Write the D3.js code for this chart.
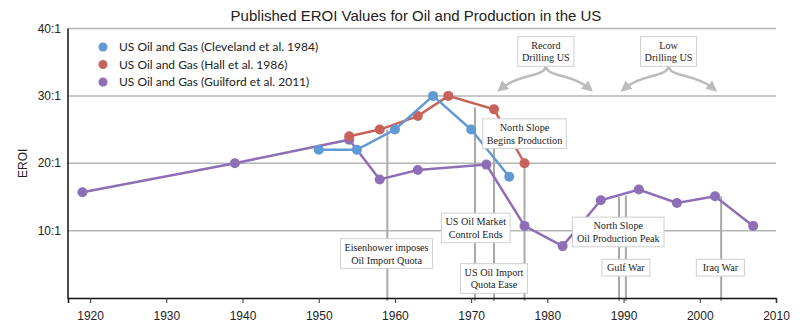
<!DOCTYPE html>
<html lang="en">
<head>
<meta charset="UTF-8">
<title>Published EROI Values for Oil and Production in the US</title>
<script src="https://cdn.jsdelivr.net/npm/d3@7"></script>
<style>
  body { margin: 0; background: #fff; }
</style>
</head>
<body>
<div id="chart"></div>
<script>
// series (year, EROI)
const cleveYears = [1950, 1955, 1960, 1965, 1970, 1975];
const cleveVals  = [22, 22, 25, 30, 25, 18];
const hallYears  = [1954, 1958, 1963, 1967, 1973, 1977];
const hallVals   = [24, 25, 27, 30, 28, 20];
const guilYears  = [1919, 1939, 1954, 1958, 1963, 1972, 1977, 1982, 1987, 1992, 1997, 2002, 2007];
const guilVals   = [15.7, 20, 23.5, 17.6, 19, 19.8, 10.7, 7.7, 14.5, 16.1, 14.1, 15.1, 10.7];

const seriesNames  = ["US Oil and Gas (Cleveland et al. 1984)", "US Oil and Gas (Hall et al. 1986)", "US Oil and Gas (Guilford et al. 2011)"];
const seriesColors = ["#6199d4", "#c9625a", "#8e6eb6"];

const xTicks = [1920, 1930, 1940, 1950, 1960, 1970, 1980, 1990, 2000, 2010];
const yTicks = [10, 20, 30, 40];
const yTickLabels = ["10:1", "20:1", "30:1", "40:1"];

// vertical event lines: year and the EROI where the line stops at the top
const eventYears = [1959, 1970.5, 1973, 1977, 1989.4, 1990.3, 2002.8];
const eventTops  = [25, 28.3, 22.2, 20, 15, 15.2, 15.1];

// annotation boxes, centred on (year, EROI)
const noteLabels = [["Record", "Drilling US"], ["Low", "Drilling US"], ["North Slope", "Begins Production"],
  ["US Oil Market", "Control Ends"], ["Eisenhower imposes", "Oil Import Quota"], ["US Oil Import", "Quota Ease"],
  ["North Slope", "Oil Production Peak"], ["Gulf War"], ["Iraq War"]];
const noteYears = [1979.8, 1995.9, 1977, 1970.6, 1958.9, 1973, 1989.3, 1990.3, 2002.7];
const noteVals  = [36.6, 36.6, 24.4, 10.4, 6.6, 2.9, 9.8, 4.5, 4.5];

// curly arrows below the drilling boxes
const arrowFrom  = [1979.8, 1995.9];
const arrowLeft  = [1973.6, 1989.8];
const arrowRight = [1985.8, 2002.1];
const arrowTop = 34.6, arrowEnd = 30.7;

const width = 800, height = 325;

const svg = d3.select("#chart")
  .append("svg")
  .attr("width", width)
  .attr("height", height)
  .style("font-family", "'Liberation Sans', Arial, sans-serif");

const x = d3.scaleLinear().domain([1917.1, 2010]).range([68, 776]);
const y = d3.scaleLinear().domain([0, 40]).range([298, 28.5]);

// title
svg.append("text")
  .attr("x", 416)
  .attr("y", 20.5)
  .attr("text-anchor", "middle")
  .attr("font-size", "15px")
  .attr("fill", "#222")
  .text("Published EROI Values for Oil and Production in the US");

// grid lines
svg.append("g")
  .selectAll("line")
  .data(yTicks)
  .enter()
  .append("line")
  .attr("x1", x.range()[0])
  .attr("x2", x.range()[1])
  .attr("y1", d => y(d))
  .attr("y2", d => y(d))
  .attr("stroke", "#b5b5b5")
  .attr("stroke-width", 1.5);

// y tick labels
svg.append("g")
  .selectAll("text")
  .data(yTicks)
  .enter()
  .append("text")
  .attr("x", 61)
  .attr("y", d => y(d))
  .attr("dy", "0.35em")
  .attr("text-anchor", "end")
  .attr("font-size", "12px")
  .attr("fill", "#222")
  .text((d, i) => yTickLabels[i]);

svg.append("text")
  .attr("transform", "translate(27," + y(20) + ") rotate(-90)")
  .attr("text-anchor", "middle")
  .attr("font-size", "12px")
  .attr("fill", "#222")
  .text("EROI");

// event lines
svg.append("g")
  .selectAll("line")
  .data(eventYears)
  .enter()
  .append("line")
  .attr("x1", d => x(d))
  .attr("x2", d => x(d))
  .attr("y1", (d, i) => y(eventTops[i]))
  .attr("y2", y(0) + 3)
  .attr("stroke", "#a9a9a9")
  .attr("stroke-width", 2);

// x axis
const xAxis = svg.append("g")
  .attr("transform", "translate(0," + y(0) + ")")
  .call(d3.axisBottom(x).tickValues(xTicks).tickFormat(d3.format("d")).tickSize(5).tickPadding(8));
xAxis.select(".domain").attr("stroke", "#111").attr("stroke-width", 1.5);
xAxis.selectAll(".tick line").attr("stroke", "#333");
xAxis.selectAll("text")
  .attr("font-size", "12px")
  .attr("font-family", "'Liberation Sans', Arial, sans-serif")
  .attr("fill", "#222");

// y axis line
svg.append("line")
  .attr("x1", x.range()[0])
  .attr("x2", x.range()[0])
  .attr("y1", y(40))
  .attr("y2", y(0) + 0.75)
  .attr("stroke", "#111")
  .attr("stroke-width", 1.5);

// series, drawn purple first so red and blue sit on top
const series = [
  { years: cleveYears, vals: cleveVals, k: 0 },
  { years: hallYears, vals: hallVals, k: 1 },
  { years: guilYears, vals: guilVals, k: 2 }
];

const line = d3.line()
  .x(d => x(d[0]))
  .y(d => y(d[1]));

[2, 1, 0].forEach(k => {
  const s = series[k];
  const pts = s.years.map((yr, i) => [yr, s.vals[i]]);
  const g = svg.append("g");
  g.append("path")
    .datum(pts)
    .attr("d", line)
    .attr("fill", "none")
    .attr("stroke", seriesColors[k])
    .attr("stroke-width", 2.5);
  g.selectAll("circle")
    .data(pts)
    .enter()
    .append("circle")
    .attr("cx", d => x(d[0]))
    .attr("cy", d => y(d[1]))
    .attr("r", 5)
    .attr("fill", seriesColors[k]);
});

// legend
const legend = svg.append("g")
  .selectAll("g")
  .data(seriesNames)
  .enter()
  .append("g")
  .attr("transform", (d, i) => "translate(103," + (47 + i * 17.5) + ")");
legend.append("circle")
  .attr("r", 4.5)
  .attr("fill", (d, i) => seriesColors[i]);
legend.append("text")
  .attr("x", 16)
  .attr("dy", "0.35em")
  .attr("font-family", "Lato, 'Open Sans', sans-serif")
  .attr("font-size", "12px")
  .attr("fill", "#222")
  .text(d => d);

// arrows
const defs = svg.append("defs");
defs.append("marker")
  .attr("id", "head")
  .attr("viewBox", "0 0 10 10")
  .attr("refX", 5)
  .attr("refY", 5)
  .attr("markerWidth", 11)
  .attr("markerHeight", 11)
  .attr("markerUnits", "userSpaceOnUse")
  .attr("orient", "auto")
  .append("path")
  .attr("d", "M0,0 L10,5 L0,10 Z")
  .attr("fill", "#bcbcbc");

arrowFrom.forEach((yr, i) => {
  [arrowLeft[i], arrowRight[i]].forEach(end => {
    const x0 = x(yr), y0 = y(arrowTop), x1 = x(end), y1 = y(arrowEnd);
    const p = d3.path();
    p.moveTo(x0, y0);
    p.bezierCurveTo(x0, y0 + 13, x0 + (x1 - x0) * 0.55, y0 + 8, x1 - (x1 - x0) * 0.06, y1 - 3);
    svg.append("path")
      .attr("d", p.toString())
      .attr("fill", "none")
      .attr("stroke", "#bcbcbc")
      .attr("stroke-width", 2.5)
      .attr("marker-end", "url(#head)");
  });
});

// annotation boxes
const notes = svg.append("g")
  .selectAll("g")
  .data(noteLabels)
  .enter()
  .append("g")
  .attr("transform", (d, i) => "translate(" + x(noteYears[i]) + "," + y(noteVals[i]) + ")");

notes.each(function (lines) {
  const g = d3.select(this);
  const lh = 12.8;
  const rect = g.append("rect");
  const txt = g.append("text")
    .attr("text-anchor", "middle")
    .attr("font-family", "'Liberation Serif', 'DejaVu Serif', serif")
    .attr("font-size", "10.2px")
    .attr("fill", "#222");
  lines.forEach((t, j) => {
    txt.append("tspan")
      .attr("x", 0)
      .attr("y", (j - (lines.length - 1) / 2) * lh)
      .attr("dy", "0.35em")
      .text(t);
  });
  const w = Math.max(txt.node().getBBox().width + 8, 48);
  const h = lines.length * lh + 4;
  rect.attr("x", -w / 2)
    .attr("y", -h / 2)
    .attr("width", w)
    .attr("height", h)
    .attr("fill", "#fff")
    .attr("stroke", "#cfcfcf")
    .attr("stroke-width", 1);
});
</script>
</body>
</html>
